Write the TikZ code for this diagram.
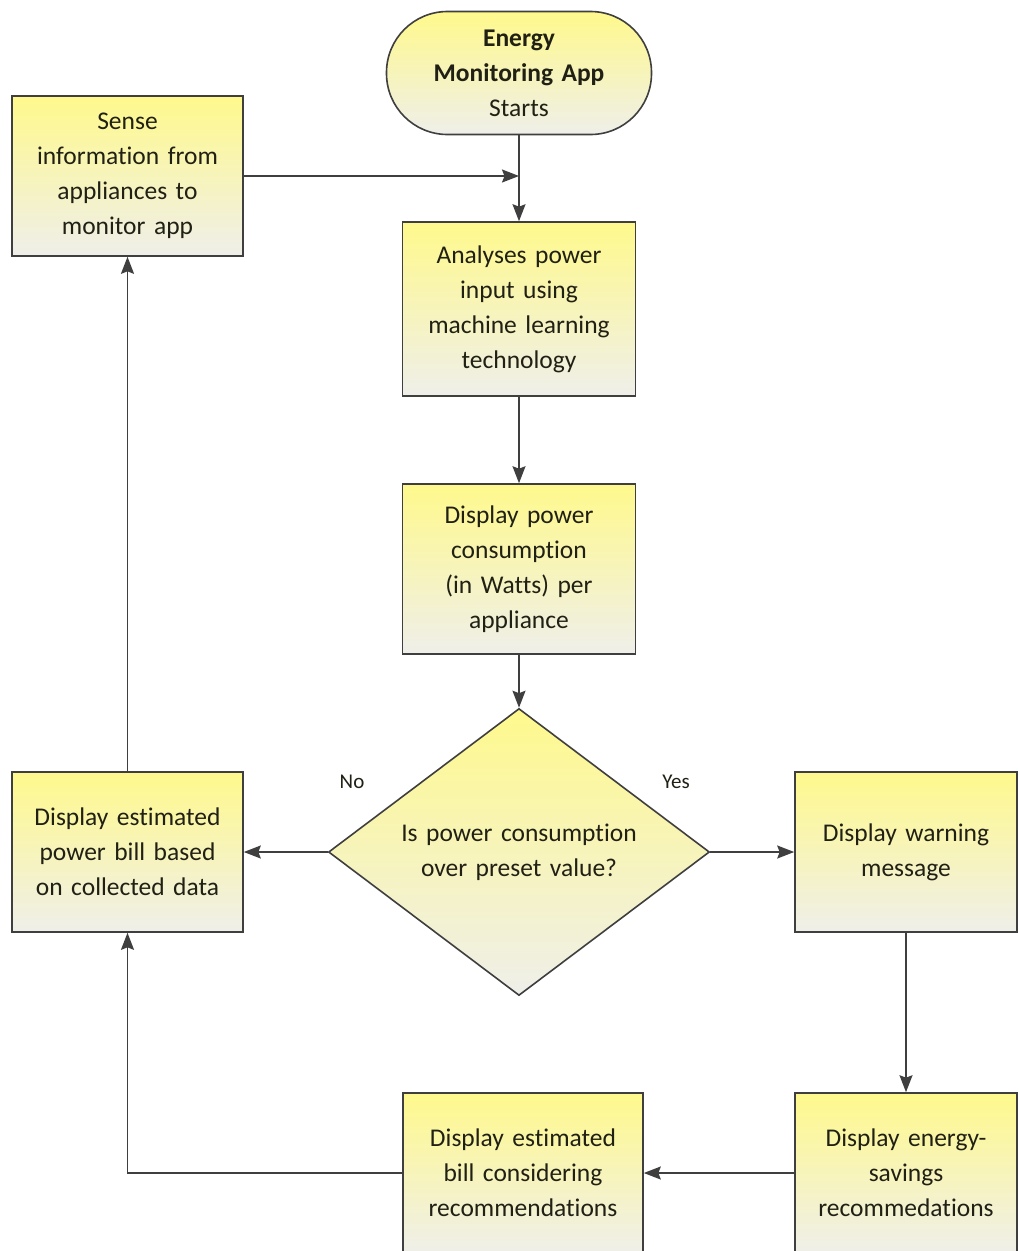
\documentclass[tikz,border=0pt]{standalone}
\usepackage{fontspec}
\setmainfont{Carlito}[Ligatures=NoCommon]
\usetikzlibrary{shapes.geometric,arrows.meta}
\definecolor{boxtop}{HTML}{FFF98C}
\definecolor{boxbot}{HTML}{EFEFEA}
\definecolor{edgecol}{HTML}{3F3F3F}
\definecolor{txtcol}{HTML}{202014}
\tikzset{
  boxbase/.style={draw=edgecol, line width=1.6pt, top color=boxtop, bottom color=boxbot,
    text=txtcol, align=center, inner sep=0pt,
    font=\fontsize{25.5}{35}\selectfont},
  procbox/.style={boxbase, rectangle, minimum width=#1, text width=#1-6pt, minimum height=160pt},
  conn/.style={draw=edgecol, line width=1.7pt, -{Stealth[length=17pt,width=13pt,inset=2.5pt]}},
  lbl/.style={text=txtcol, font=\fontsize{21}{24}\selectfont}
}
\begin{document}
\begin{tikzpicture}[x=1pt,y=-1pt]
\useasboundingbox (0,0) rectangle (1018,1251);
\fill[white] (0,0) rectangle (1018,1251);
% nodes
\node[boxbase, rectangle, rounded corners=61pt, minimum width=265pt, minimum height=123pt, text width=240pt] (start) at (519,73) {\textbf{Energy}\\\textbf{Monitoring App}\\Starts};
\node[procbox=231pt] (sense) at (127.5,176) {Sense\\information from\\appliances to\\monitor app};
\node[procbox=233pt, minimum height=174pt] (analyse) at (519,309) {Analyses power\\input using\\machine learning\\technology};
\node[procbox=233pt, minimum height=170pt] (power) at (519,569) {Display power\\consumption\\(in Watts) per\\appliance};
\node[boxbase, diamond, aspect=1.33, minimum width=381pt, minimum height=287pt, text width=280pt] (dec) at (519,852) {Is power consumption\\over preset value?};
\node[procbox=231pt] (bill) at (127.5,852) {Display estimated\\power bill based\\on collected data};
\node[procbox=222pt] (warn) at (906,852) {Display warning\\message};
\node[procbox=222pt] (recs) at (906,1173) {Display energy-\\savings\\recommedations};
\node[procbox=240pt] (estbill) at (523,1173) {Display estimated\\bill considering\\recommendations};
\node[lbl] (no) at (352,782) {No};
\node[lbl] (yes) at (676,782) {Yes};
% connectors
\draw[conn] (start.south) -- (analyse.north);
\coordinate (join) at (sense.east -| start.south);
\draw[conn] (sense.east) -- (join);
\draw[conn] (analyse.south) -- (power.north);
\draw[conn] (power.south) -- (dec.north);
\draw[conn] (dec.west) -- (bill.east);
\draw[conn] (dec.east) -- (warn.west);
\draw[conn] (warn.south) -- (recs.north);
\draw[conn] (recs.west) -- (estbill.east);
\draw[conn] (estbill.west) -| (bill.south);
\draw[conn] (bill.north) -- (sense.south);
\end{tikzpicture}
\end{document}
